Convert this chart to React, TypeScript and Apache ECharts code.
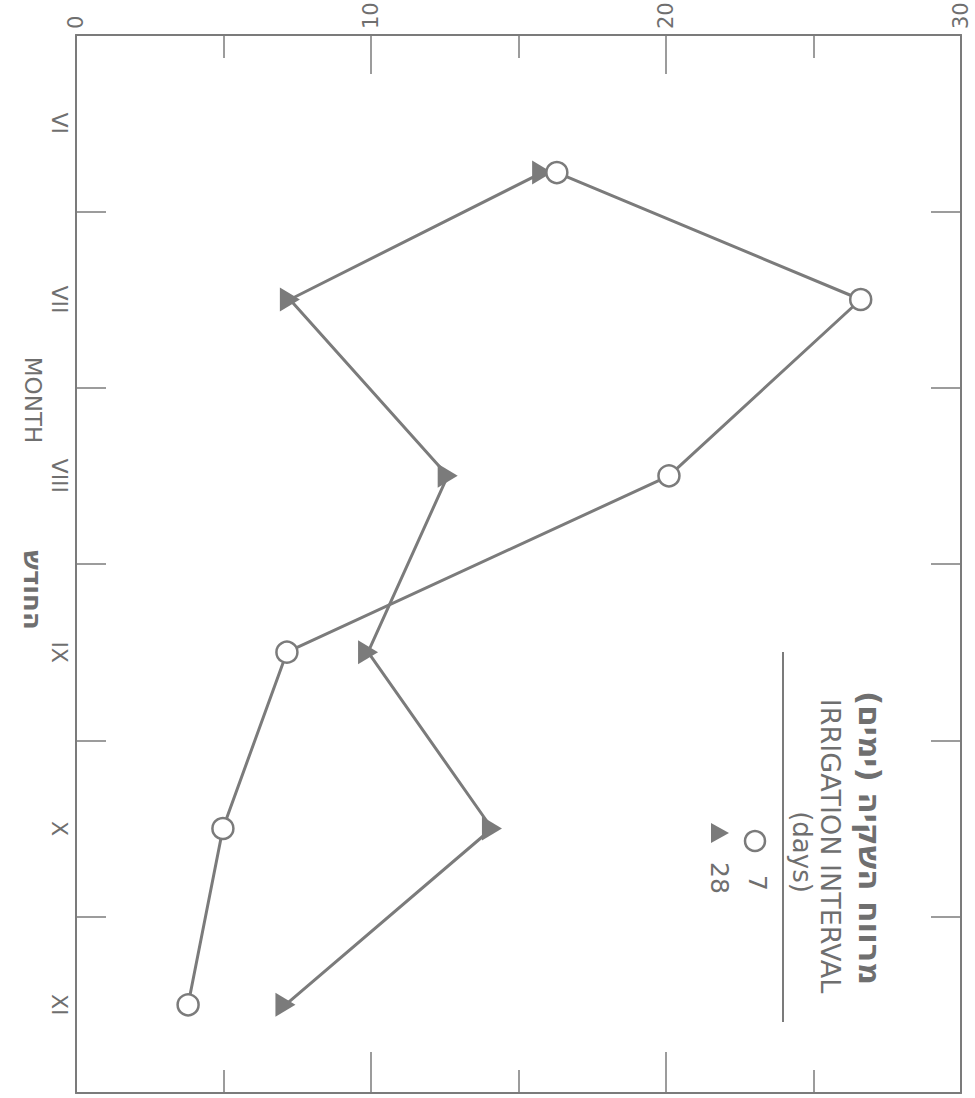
import React, { useEffect, useRef } from "react";
import * as echarts from "echarts";

// Months (category labels) and the sampling position of each reading (month number)
const months = ["VI", "VII", "VIII", "IX", "X", "XI"];
const sampleMonth = [6.28, 7, 8, 9, 10, 11];
// Irrigation interval 7 days (open circles)
const interval7 = [16.3, 26.6, 20.1, 7.15, 4.98, 3.8];
// Irrigation interval 28 days (filled triangles)
const interval28 = [15.8, 7.25, 12.6, 9.9, 14.1, 7.1];
const valueMin = 0;
const valueMax = 30;
const valueStep = 10;

const LINE = "#7b7b7b";
const TEXT = "#6f6f6f";
const FONT = "DejaVu Sans, Liberation Sans, sans-serif";
const ROT = -Math.PI / 2;

export default function App() {
  const ref = useRef<HTMLDivElement>(null);
  useEffect(() => {
    if (!ref.current) return;
    const chart = echarts.init(ref.current, null, { renderer: "svg" });
    const valueAxisBase = {
      type: "value" as const,
      min: valueMin,
      max: valueMax,
      interval: valueStep,
      splitLine: { show: false },
      axisLine: { show: true, onZero: false, lineStyle: { color: LINE, width: 2 } },
      minorTick: { show: true, splitNumber: 2, length: 23, lineStyle: { color: LINE, width: 1.5 } },
    };
    const catAxisBase = {
      type: "category" as const,
      data: months,
      inverse: true,
      boundaryGap: true,
      splitLine: { show: false },
      axisLine: { show: true, onZero: false, lineStyle: { color: LINE, width: 2 } },
      axisTick: { show: true, inside: true, length: 30, lineStyle: { color: LINE, width: 1.5 } },
    };
    chart.setOption({
      animation: false,
      backgroundColor: "#ffffff",
      grid: { left: 76, right: 14, top: 35, bottom: 5, containLabel: false, outerBoundsMode: "none" },
      xAxis: [
        {
          ...valueAxisBase,
          position: "top",
          axisTick: { show: true, inside: true, length: 39, lineStyle: { color: LINE, width: 1.5 } },
          axisLabel: {
            show: true,
            rotate: -90,
            fontSize: 21,
            color: TEXT,
            fontFamily: FONT,
            margin: 6,
          },
        },
        {
          ...valueAxisBase,
          position: "bottom",
          axisTick: { show: true, inside: true, length: 41, lineStyle: { color: LINE, width: 1.5 } },
          axisLabel: { show: false },
        },
      ],
      yAxis: [
        {
          ...catAxisBase,
          position: "left",
          axisLabel: { show: true, rotate: -90, fontSize: 22, color: TEXT, fontFamily: FONT, margin: 6 },
        },
        {
          ...catAxisBase,
          position: "right",
          axisLabel: { show: false },
        },
        {
          type: "value",
          show: false,
          min: 5.5,
          max: 11.5,
          inverse: true,
          axisLine: { onZero: false },
        },
      ],
      series: [
        {
          type: "line",
          name: "7",
          xAxisIndex: 0,
          yAxisIndex: 2,
          data: interval7.map((v, i) => [v, sampleMonth[i]]),
          symbol: "circle",
          symbolSize: 21,
          itemStyle: { color: "#ffffff", borderColor: LINE, borderWidth: 2.5 },
          lineStyle: { color: LINE, width: 3 },
          z: 4,
        },
        {
          type: "line",
          name: "28",
          xAxisIndex: 0,
          yAxisIndex: 2,
          data: interval28.map((v, i) => [v, sampleMonth[i]]),
          symbol: "triangle",
          symbolRotate: -90,
          symbolSize: [24, 20],
          itemStyle: { color: LINE },
          lineStyle: { color: LINE, width: 3 },
          z: 3,
        },
      ],
      graphic: [
        { type: "text", x: 33, y: 400, rotation: ROT, style: { text: "MONTH", fill: TEXT, font: `23px ${FONT}`, textAlign: "center", textVerticalAlign: "middle" } },
        { type: "text", x: 33, y: 590, rotation: ROT, style: { text: "\u05D4\u05D7\u05D5\u05D3\u05E9\u200F", fill: TEXT, font: `bold 26px ${FONT}`, textAlign: "center", textVerticalAlign: "middle" } },
        { type: "text", x: 870, y: 838, rotation: ROT, style: { text: "\u05DE\u05E8\u05D5\u05D5\u05D7 \u05D4\u05E9\u05E7\u05D9\u05D4 (\u05D9\u05DE\u05D9\u05DD)\u200F", fill: TEXT, font: `bold 31px ${FONT}`, textAlign: "center", textVerticalAlign: "middle" } },
        { type: "text", x: 830, y: 846, rotation: ROT, style: { text: "IRRIGATION INTERVAL", fill: TEXT, font: `27px ${FONT}`, textAlign: "center", textVerticalAlign: "middle" } },
        { type: "text", x: 802, y: 852, rotation: ROT, style: { text: "(days)", fill: TEXT, font: `26px ${FONT}`, textAlign: "center", textVerticalAlign: "middle" } },
        { type: "line", shape: { x1: 783, y1: 652, x2: 783, y2: 1022 }, style: { stroke: LINE, lineWidth: 2 } },
        { type: "circle", shape: { cx: 755, cy: 841, r: 10 }, style: { fill: "#ffffff", stroke: LINE, lineWidth: 2.5 } },
        { type: "text", x: 757, y: 883, rotation: ROT, style: { text: "7", fill: TEXT, font: `25px ${FONT}`, textAlign: "center", textVerticalAlign: "middle" } },
        { type: "polygon", shape: { points: [[711, 823], [711, 843], [729, 833]] }, style: { fill: LINE } },
        { type: "text", x: 719, y: 878, rotation: ROT, style: { text: "28", fill: TEXT, font: `25px ${FONT}`, textAlign: "center", textVerticalAlign: "middle" } },
      ],
    });
    return () => chart.dispose();
  }, []);
  return <div ref={ref} style={{ position: "absolute", left: 0, top: 0, width: 975, height: 1098 }} />;
}
